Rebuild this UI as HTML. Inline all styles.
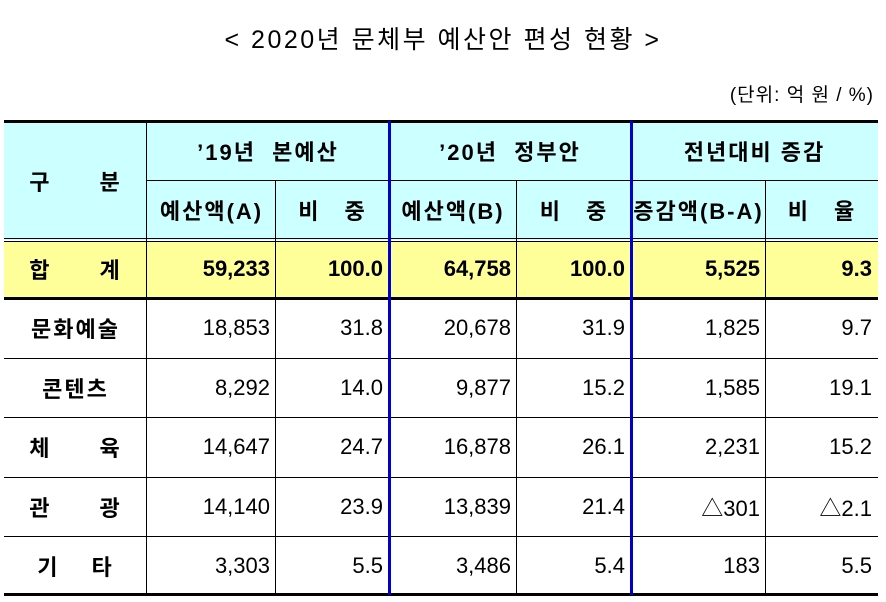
<!DOCTYPE html>
<html><head><meta charset="utf-8"><style>
body{margin:0;width:886px;height:602px;background:#fff;position:relative;overflow:hidden;font-family:"Liberation Sans","Noto Sans CJK KR","NanumGothic",sans-serif;color:#000}
.t{position:absolute;white-space:nowrap}
.c{position:absolute;display:flex;align-items:center;box-sizing:border-box;font-size:22px;white-space:pre}
.r{justify-content:flex-end;padding-right:6px}
.m{justify-content:center}
.b{font-weight:bold;font-size:22px;letter-spacing:2px}
.n{font-weight:bold;letter-spacing:0}
.h{position:absolute;background:#000}
.v{position:absolute;background:#000;width:1px}
</style></head><body>
<div class="t" style="left:0;width:886px;text-align:center;top:20px;font-size:25px;letter-spacing:2.5px">&lt; 2020년 문체부 예산안 편성 현황 &gt;</div>
<div class="t" style="right:12px;top:80px;font-size:19px;letter-spacing:1px">(단위: 억 원 / %)</div>

<div style="position:absolute;left:4px;top:121px;width:874px;height:119px;background:#ccffff"></div>
<div style="position:absolute;left:4px;top:242px;width:874px;height:56px;background:#ffff99"></div>

<div id="cells"></div>

<div class="h" style="left:4px;top:120px;width:874px;height:3px"></div>
<div class="h" style="left:147px;top:180px;width:731px;height:1px"></div>
<div class="h" style="left:4px;top:238px;width:874px;height:1px"></div>
<div class="h" style="left:4px;top:241px;width:874px;height:1px"></div>
<div class="h" style="left:4px;top:297px;width:874px;height:3px"></div>
<div class="h" style="left:4px;top:358px;width:874px;height:1px"></div>
<div class="h" style="left:4px;top:417px;width:874px;height:1px"></div>
<div class="h" style="left:4px;top:477px;width:874px;height:1px"></div>
<div class="h" style="left:4px;top:536px;width:874px;height:1px"></div>
<div class="h" style="left:4px;top:593px;width:874px;height:3px"></div>
<div class="v" style="left:146px;top:121px;height:474px"></div>
<div class="v" style="left:275px;top:180px;height:415px"></div>
<div class="v" style="left:516px;top:180px;height:415px"></div>
<div class="v" style="left:765px;top:180px;height:415px"></div>
<div class="v" style="left:388px;top:121px;height:474px;width:3px;background:#0000cc"></div>
<div class="v" style="left:630px;top:121px;height:474px;width:3px;background:#0000cc"></div>

<script>
const xs=[4,147,276,389,517,631,766,878];
const ys=[121,180,240,298,358,417,477,536,595];
const cats=["합　　계","문화예술","콘텐츠","체　　육","관　　광","기　 타"];
const a19=["59,233","18,853","8,292","14,647","14,140","3,303"];
const s19=["100.0","31.8","14.0","24.7","23.9","5.5"];
const b20=["64,758","20,678","9,877","16,878","13,839","3,486"];
const s20=["100.0","31.9","15.2","26.1","21.4","5.4"];
const diff=["5,525","1,825","1,585","2,231","△301","183"];
const rate=["9.3","9.7","19.1","15.2","△2.1","5.5"];
const root=document.getElementById('cells');
function cell(c0,c1,r0,r1,txt,cls,name){
  const d=document.createElement('div');
  d.className='c '+cls;
  d.style.left=xs[c0]+'px';d.style.width=(xs[c1]-xs[c0])+'px';
  d.style.top=ys[r0]+'px';d.style.height=(ys[r1]-ys[r0])+'px';
  d.textContent=txt;
  
  
  root.appendChild(d);
}
cell(0,1,0,2,"구　　분","m b","header-category");
cell(1,3,0,1,"’19년  본예산","m b","header-2019-budget");
cell(3,5,0,1,"’20년  정부안","m b","header-2020-proposal");
cell(5,7,0,1,"전년대비 증감","m b","header-change");
cell(1,2,1,2,"예산액(A)","m b","header-amount-a");
cell(2,3,1,2,"비　중","m b","header-share-a");
cell(3,4,1,2,"예산액(B)","m b","header-amount-b");
cell(4,5,1,2,"비　중","m b","header-share-b");
cell(5,6,1,2,"증감액(B-A)","m b","header-diff");
cell(6,7,1,2,"비　율","m b","header-rate");
for(let i=0;i<cats.length;i++){
  const r0=i+2,r1=i+3;
  const bold=i===0?' n':'';
  cell(0,1,r0,r1,cats[i],'m b','row-label');
  cell(1,2,r0,r1,a19[i],'r'+bold,'amount-2019');
  cell(2,3,r0,r1,s19[i],'r'+bold,'share-2019');
  cell(3,4,r0,r1,b20[i],'r'+bold,'amount-2020');
  cell(4,5,r0,r1,s20[i],'r'+bold,'share-2020');
  cell(5,6,r0,r1,diff[i],'r'+bold,'change-amount');
  cell(6,7,r0,r1,rate[i],'r'+bold,'change-rate');
}
</script>
</body></html>
